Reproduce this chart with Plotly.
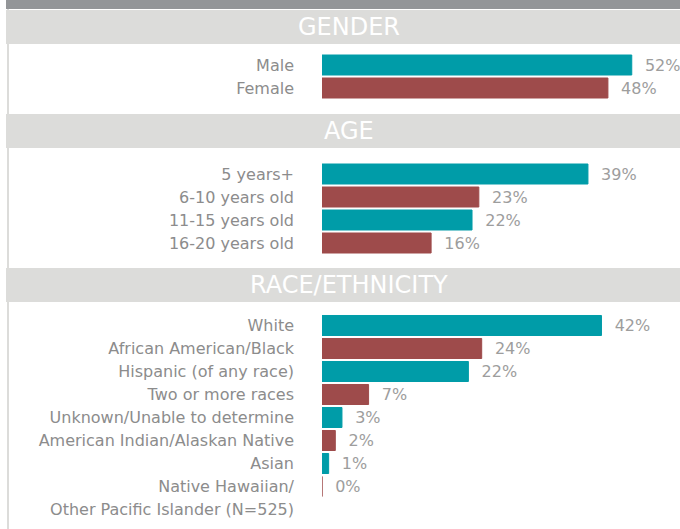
import plotly.graph_objects as go

W, H = 680, 529

# ---- data ----
gender_labels = ["Male", "Female"]
gender_values = [52, 48]

age_labels = ["5 years+", "6-10 years old", "11-15 years old", "16-20 years old"]
age_values = [39, 23, 22, 16]

race_labels = ["White", "African American/Black", "Hispanic (of any race)", "Two or more races",
               "Unknown/Unable to determine", "American Indian/Alaskan Native", "Asian",
               "Native Hawaiian/", "Other Pacific Islander (N=525)"]
race_values = [42, 24, 22, 7, 3, 2, 1, 0]

section_titles = ["GENDER", "AGE", "RACE/ETHNICITY"]

TEAL = "#009ca8"
RED = "#9e4b4b"
LABEL = "#8c8c8c"
VAL = "#9d9d9d"
BAND = "#dcdcda"
DARK = "#939598"
FONT = "'DejaVu Sans', sans-serif"


def py(p):
    return 1 - p / H


def px(p):
    return p / W


fig = go.Figure()

sections = [
    (gender_labels, gender_values, 53.5, 60.1, ""),
    (age_labels, age_values, 162.5, 52.5, "2"),
    (race_labels, race_values, 314.0, 53.8, "3"),
]
PITCH = 23.0
x_dom = [px(322), 1.0]

for labels, values, top, xmax, suf in sections:
    n = len(labels)
    bottom = top + n * PITCH
    colors = [TEAL if i % 2 == 0 else RED for i in range(len(values))]
    fig.add_trace(go.Bar(
        x=values, y=list(range(len(values))), orientation="h",
        marker=dict(color=colors, line=dict(color=colors, width=1)),
        text=[f"  {v}%" for v in values], textposition="outside",
        textfont=dict(color=VAL, size=16, family=FONT),
        cliponaxis=False, width=0.87,
        xaxis="x" + suf, yaxis="y" + suf, hoverinfo="skip", showlegend=False,
    ))
    fig.update_layout(**{
        "xaxis" + suf: dict(domain=x_dom, range=[0, xmax], visible=False,
                            anchor="y" + suf, fixedrange=True),
        "yaxis" + suf: dict(domain=[py(bottom), py(top)], range=[n - 0.5, -0.5],
                            tickvals=list(range(n)), ticktext=labels,
                            showgrid=False, zeroline=False, showline=False,
                            ticklabelstandoff=27, anchor="x" + suf, fixedrange=True,
                            tickfont=dict(color=LABEL, size=16, family=FONT)),
    })

shapes = [
    dict(type="rect", xref="paper", yref="paper", x0=px(6), x1=1, y0=py(9), y1=1,
         fillcolor=DARK, line_width=0, layer="below"),
    dict(type="line", xref="paper", yref="paper", x0=px(8), x1=px(8), y0=0, y1=py(9),
         line=dict(color=BAND, width=2), layer="below"),
]
annotations = []
bands = [(10, 44), (114, 148), (268, 302)]
for (y0, y1), title in zip(bands, section_titles):
    shapes.append(dict(type="rect", xref="paper", yref="paper", x0=px(6), x1=1,
                       y0=py(y1), y1=py(y0), fillcolor=BAND, line_width=0, layer="below"))
    annotations.append(dict(text=title, xref="paper", yref="paper", x=px(349),
                            y=py((y0 + y1) / 2), showarrow=False, xanchor="center",
                            yanchor="middle",
                            font=dict(color="white", size=24, family=FONT)))

fig.update_layout(
    width=W, height=H, margin=dict(l=0, r=0, t=0, b=0),
    paper_bgcolor="white", plot_bgcolor="rgba(0,0,0,0)",
    shapes=shapes, annotations=annotations, bargap=0.13,
)

fig.write_html("out.html", config={"displayModeBar": False},
               post_script="document.body.style.margin='0';")
